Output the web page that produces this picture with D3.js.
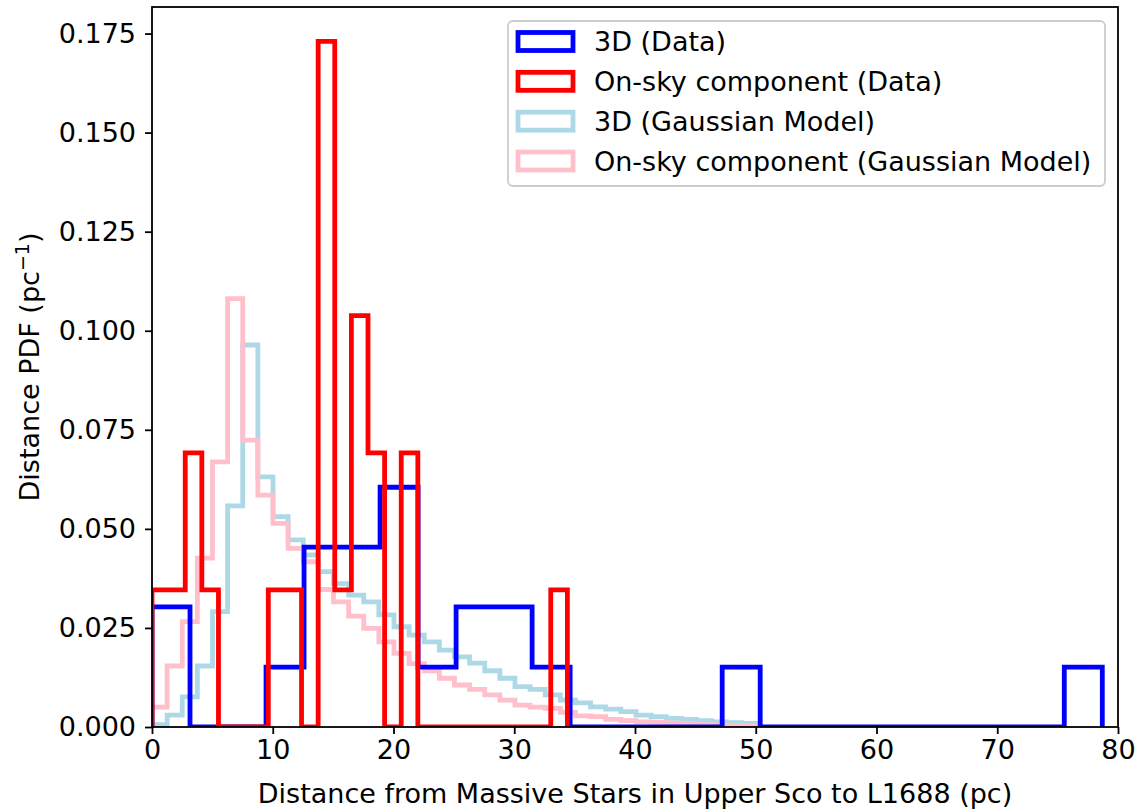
<!DOCTYPE html>
<html>
<head>
<meta charset="utf-8">
<script src="https://cdn.jsdelivr.net/npm/d3@7"></script>
<style>
  body { margin: 0; background: #ffffff; }
  text { font-family: "DejaVu Sans", sans-serif; fill: #000; }
</style>
</head>
<body>
<svg id="chart" width="1141" height="812"></svg>
<script>
// Histogram bin ranges (pc) and number of bins for each distribution
const data3DRange = [0, 78.7];
const data3DBins = 25;
const dataSkyRange = [0, 34.4];
const dataSkyBins = 25;
const modelRange = [0, 50.1];
const modelBins = 40;

// Normalised densities (pc^-1) per bin
const data3D = [0.0303, 0, 0, 0.0151, 0.0454, 0.0454, 0.0605, 0.0151, 0.0303, 0.0303,
                0.0151, 0, 0, 0, 0, 0.0151, 0, 0, 0, 0, 0, 0, 0, 0, 0.0151];
const dataSky = [0.0346, 0.0346, 0.0692, 0.0346, 0, 0, 0, 0.0346, 0.0346, 0,
                 0.1730, 0.0346, 0.1038, 0.0692, 0, 0.0692, 0, 0, 0, 0, 0, 0, 0, 0, 0.0346];
const model3D = [0.0006, 0.0030, 0.0076, 0.0154, 0.0291, 0.0558, 0.0964, 0.0631, 0.0531, 0.0472,
                 0.0434, 0.0392, 0.0362, 0.0333, 0.0316, 0.0283, 0.0253, 0.0232, 0.0215, 0.0194,
                 0.0177, 0.0161, 0.0142, 0.0123, 0.0102, 0.0095, 0.0081, 0.0068, 0.0061, 0.0051,
                 0.0045, 0.0039, 0.0030, 0.0026, 0.0022, 0.0019, 0.0016, 0.0013, 0.0011, 0.0009];
const modelSky = [0.0050, 0.0154, 0.0266, 0.0426, 0.0669, 0.1081, 0.0724, 0.0585, 0.0514, 0.0451,
                  0.0417, 0.0347, 0.0316, 0.0280, 0.0249, 0.0215, 0.0186, 0.0160, 0.0142, 0.0123,
                  0.0106, 0.0095, 0.0081, 0.0068, 0.0055, 0.0050, 0.0047, 0.0037, 0.0028, 0.0026,
                  0.0019, 0.0016, 0.0013, 0.0012, 0.0010, 0.0008, 0.0006, 0.0005, 0.0004, 0.0003];

const xTicks = [0, 10, 20, 30, 40, 50, 60, 70, 80];
const yTicks = [0, 0.025, 0.05, 0.075, 0.1, 0.125, 0.15, 0.175];
const xDomain = [0, 80];
const yDomain = [0, 0.1817];

const legendLabels = ["3D (Data)", "On-sky component (Data)",
                      "3D (Gaussian Model)", "On-sky component (Gaussian Model)"];
const legendColors = ["#0000ff", "#ff0000", "#add8e6", "#ffc0cb"];

// Layout
const plot = { left: 152, right: 1118, top: 7, bottom: 727 };
const fontSize = 27;
const lineW = 4.8;

const svg = d3.select("#chart");
const x = d3.scaleLinear().domain(xDomain).range([plot.left, plot.right]);
const y = d3.scaleLinear().domain(yDomain).range([plot.bottom, plot.top]);

svg.append("defs").append("clipPath").attr("id", "plotClip")
  .append("rect")
  .attr("x", plot.left).attr("y", plot.top)
  .attr("width", plot.right - plot.left).attr("height", plot.bottom - plot.top);

// Outline of a step histogram: up from the baseline, across each bin, back down
function stepPoints(range, n, values) {
  const w = (range[1] - range[0]) / n;
  const pts = [[range[0], 0]];
  values.forEach((v, i) => {
    pts.push([range[0] + i * w, v]);
    pts.push([range[0] + (i + 1) * w, v]);
  });
  pts.push([range[1], 0]);
  return pts;
}

const line = d3.line().x(d => x(d[0])).y(d => y(d[1]));

const series = [
  { range: modelRange, n: modelBins, values: model3D, color: legendColors[2] },
  { range: modelRange, n: modelBins, values: modelSky, color: legendColors[3] },
  { range: data3DRange, n: data3DBins, values: data3D, color: legendColors[0] },
  { range: dataSkyRange, n: dataSkyBins, values: dataSky, color: legendColors[1] }
];

const lines = svg.append("g").attr("clip-path", "url(#plotClip)");
series.forEach(s => {
  lines.append("path")
    .attr("d", line(stepPoints(s.range, s.n, s.values)))
    .attr("fill", "none")
    .attr("stroke", s.color)
    .attr("stroke-width", lineW)
    .attr("stroke-linejoin", "miter")
    .attr("stroke-linecap", "butt");
});

// Axes
const xAxis = svg.append("g")
  .attr("transform", `translate(0,${plot.bottom})`)
  .call(d3.axisBottom(x).tickValues(xTicks).tickFormat(d3.format("d"))
        .tickSize(7).tickPadding(6));
const yAxis = svg.append("g")
  .attr("transform", `translate(${plot.left},0)`)
  .call(d3.axisLeft(y).tickValues(yTicks).tickFormat(d3.format(".3f"))
        .tickSize(7).tickPadding(9));

[xAxis, yAxis].forEach(g => {
  g.select(".domain").remove();
  g.selectAll(".tick line").attr("stroke", "#000").attr("stroke-width", 1.8);
  g.selectAll(".tick text")
    .attr("fill", "#000")
    .style("font-family", "'DejaVu Sans', sans-serif")
    .style("font-size", fontSize + "px");
});

// Frame around the plotting area
svg.append("rect")
  .attr("x", plot.left).attr("y", plot.top)
  .attr("width", plot.right - plot.left).attr("height", plot.bottom - plot.top)
  .attr("fill", "none").attr("stroke", "#000").attr("stroke-width", 1.8);

// Axis titles
svg.append("text")
  .attr("x", (plot.left + plot.right) / 2)
  .attr("y", 803)
  .attr("text-anchor", "middle")
  .style("font-size", fontSize + "px")
  .text("Distance from Massive Stars in Upper Sco to L1688 (pc)");

const yLab = svg.append("text")
  .attr("transform", `translate(39,${(plot.top + plot.bottom) / 2}) rotate(-90)`)
  .attr("text-anchor", "middle")
  .style("font-size", fontSize + "px");
yLab.append("tspan").text("Distance PDF (pc");
yLab.append("tspan").attr("dy", -10).style("font-size", "19px").text("\u22121");
yLab.append("tspan").attr("dy", 10).text(")");

// Legend
const leg = { x: 508, y: 21, w: 597, h: 165 };
const legG = svg.append("g");
legG.append("rect")
  .attr("x", leg.x).attr("y", leg.y).attr("width", leg.w).attr("height", leg.h)
  .attr("rx", 5).attr("ry", 5)
  .attr("fill", "#ffffff").attr("fill-opacity", 0.8)
  .attr("stroke", "#cccccc").attr("stroke-width", 1.8);

const rowY = d3.scalePoint().domain(legendLabels).range([41.5, 161]);
legendLabels.forEach((label, i) => {
  const cy = rowY(label);
  legG.append("rect")
    .attr("x", 518).attr("y", cy - 9)
    .attr("width", 55).attr("height", 18)
    .attr("fill", "none")
    .attr("stroke", legendColors[i])
    .attr("stroke-width", lineW);
  legG.append("text")
    .attr("x", 594).attr("y", cy + 9.5)
    .style("font-size", fontSize + "px")
    .text(label);
});
</script>
</body>
</html>
